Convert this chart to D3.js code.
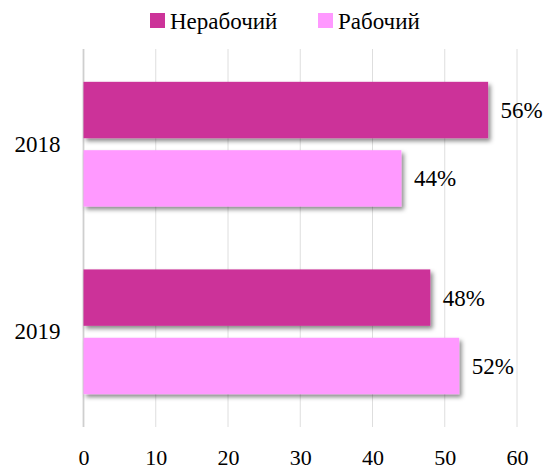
<!DOCTYPE html>
<html>
<head>
<meta charset="utf-8">
<script src="https://cdn.jsdelivr.net/npm/d3@7"></script>
<style>
	body { margin: 0; background: #fff; }
	text { font-family: "Liberation Serif", "DejaVu Serif", serif; fill: #000; }
</style>
</head>
<body>
<svg id="chart" width="554" height="472"></svg>
<script>
var years = ["2018", "2019"];
var series = ["Нерабочий", "Рабочий"];
var colors = ["#CC3399", "#FF99FF"];
var values = [[56, 44], [48, 52]];   // per year: [Нерабочий, Рабочий]
var ticks = [0, 10, 20, 30, 40, 50, 60];

var svg = d3.select("#chart");
var m = {left: 83.5, right: 37, top: 49, bottom: 45};
var w = 554 - m.left - m.right;
var h = 472 - m.top - m.bottom;

/* shadow */
var f = svg.append("defs").append("filter")
	.attr("id", "shadow")
	.attr("x", "-5%").attr("y", "-20%")
	.attr("width", "115%").attr("height", "150%");
f.append("feDropShadow")
	.attr("dx", 2.5).attr("dy", 3)
	.attr("stdDeviation", 2)
	.attr("flood-color", "#000")
	.attr("flood-opacity", 0.45);

var g = svg.append("g").attr("transform", "translate(" + m.left + "," + m.top + ")");

var x = d3.scaleLinear().domain([0, 60]).range([0, w]);
var y0 = d3.scaleBand().domain(years).range([0, h]).paddingInner(0.335).paddingOuter(0.175);
var y1 = d3.scaleBand().domain(series).range([0, y0.bandwidth()]).paddingInner(0.175);

/* grid */
g.selectAll(".grid").data(ticks).enter().append("line")
	.attr("x1", function(d){ return x(d); })
	.attr("x2", function(d){ return x(d); })
	.attr("y1", 0)
	.attr("y2", h)
	.style("stroke", function(d){ return d == 0 ? "#cfcfcf" : "#dedede"; })
	.style("stroke-width", function(d){ return d == 0 ? 1.8 : 1; });

/* x axis labels */
var xa = g.append("g")
	.attr("transform", "translate(0," + h + ")")
	.call(d3.axisBottom(x).tickValues(ticks).tickSize(0).tickPadding(22));
xa.select(".domain").remove();
xa.selectAll("text")
	.style("font-family", "'Liberation Serif', serif")
	.style("font-size", "22px")
	.attr("fill", "#000");

/* y axis labels */
var ya = g.append("g")
	.call(d3.axisLeft(y0).tickSize(0).tickPadding(23));
ya.select(".domain").remove();
ya.selectAll("text")
	.style("font-family", "'Liberation Serif', serif")
	.style("font-size", "23px")
	.attr("fill", "#000");

/* bars */
for (var i = 0; i < years.length; i++){
	var grp = g.append("g").attr("transform", "translate(0," + y0(years[i]) + ")");
	for (var s = 0; s < series.length; s++){
		var v = values[i][s];
		grp.append("rect")
			.attr("x", x(0))
			.attr("y", y1(series[s]))
			.attr("width", x(v) - x(0))
			.attr("height", y1.bandwidth())
			.attr("fill", colors[s])
			.attr("filter", "url(#shadow)");
		grp.append("text")
			.attr("x", x(v) + 12.5)
			.attr("y", y1(series[s]) + y1.bandwidth()/2)
			.attr("dy", "0.35em")
			.style("font-size", "23px")
			.text(v + "%");
	}
}

/* legend */
var lx = [150, 318];
for (var s = 0; s < series.length; s++){
	svg.append("rect")
		.attr("x", lx[s])
		.attr("y", 13)
		.attr("width", 15)
		.attr("height", 15)
		.attr("fill", colors[s]);
	svg.append("text")
		.attr("x", lx[s] + 20)
		.attr("y", 20.5)
		.attr("dy", "0.35em")
		.style("font-size", "23px")
		.text(series[s]);
}
</script>
</body>
</html>
